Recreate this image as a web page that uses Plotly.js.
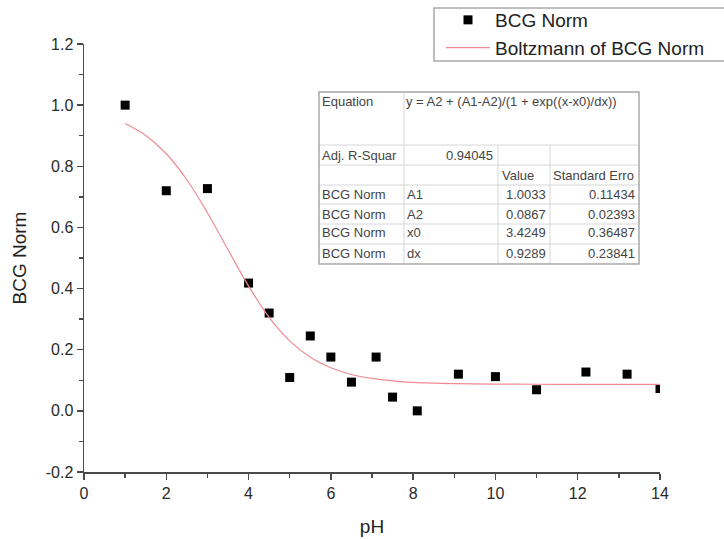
<!DOCTYPE html>
<html>
<head>
<meta charset="utf-8">
<script src="https://cdn.plot.ly/plotly-3.0.1.min.js"></script>
<style>html,body{margin:0;padding:0;background:#fff;}#chart{width:724px;height:539px;}</style>
</head>
<body>
<div id="chart"></div>
<script>
// Measured data points (pH vs BCG Norm)
const phValues = [1, 2, 3, 4, 4.5, 5, 5.5, 6, 6.5, 7.1, 7.5, 8.1, 9.1, 10, 11, 12.2, 13.2, 14];
const bcgNorm = [1.0, 0.72, 0.727, 0.418, 0.32, 0.109, 0.245, 0.176, 0.094, 0.176, 0.045, 0.0, 0.12, 0.112, 0.069, 0.127, 0.12, 0.073];

// Fitted Boltzmann curve
const fitX = [1, 1.5, 2, 2.5, 3, 3.5, 4, 4.5, 5, 5.5, 6, 6.5, 7, 7.5, 8, 9, 10, 11, 12, 13, 14];
const fitY = [0.940, 0.901, 0.841, 0.756, 0.648, 0.527, 0.408, 0.306, 0.229, 0.175, 0.141, 0.119, 0.106, 0.098, 0.093, 0.089, 0.0875, 0.087, 0.0868, 0.0867, 0.0867];

// Tick labels
const xTickVals = [0, 2, 4, 6, 8, 10, 12, 14];
const xTickText = ["0", "2", "4", "6", "8", "10", "12", "14"];
const yTickVals = [-0.2, 0, 0.2, 0.4, 0.6, 0.8, 1.0, 1.2];
const yTickText = ["-0.2", "0.0", "0.2", "0.4", "0.6", "0.8", "1.0", "1.2"];

// Legend names and axis titles
const seriesNames = ["BCG Norm", "Boltzmann of BCG Norm"];
const xTitle = "pH";
const yTitle = "BCG Norm";

// Fit result table
const tableEquation = "y = A2 + (A1-A2)/(1 + exp((x-x0)/dx))";
const adjR2 = "0.94045";
const paramRows = [
  ["BCG Norm", "A1", "1.0033", "0.11434"],
  ["BCG Norm", "A2", "0.0867", "0.02393"],
  ["BCG Norm", "x0", "3.4249", "0.36487"],
  ["BCG Norm", "dx", "0.9289", "0.23841"]
];

// pixel -> paper helpers (plot area: x 84..660, y 44..472)
const L = 84, R = 660, T = 44, B = 472;
const px = v => (v - L) / (R - L);
const py = v => (B - v) / (B - T);

const FONT = "Arial, 'Liberation Sans', sans-serif";
const shapes = [];
const annotations = [];

// Table geometry
const tL = 319, tR = 639, tT = 92, tB = 264;
const colX = [319, 404, 498, 550, 639];
const rowY = [92, 145, 165, 185, 204, 224, 244, 264];
const inner = {color: "#d6d6d6", width: 1};
function hline(x0, x1, y, line) { shapes.push({type: "line", xref: "paper", yref: "paper", x0: px(x0), x1: px(x1), y0: py(y), y1: py(y), line}); }
function vline(x, y0, y1, line) { shapes.push({type: "line", xref: "paper", yref: "paper", x0: px(x), x1: px(x), y0: py(y0), y1: py(y1), line}); }
for (let i = 1; i < rowY.length - 1; i++) hline(tL, tR, rowY[i], inner);
vline(colX[1], tT, tB, inner);
vline(colX[2], rowY[1], tB, inner);
vline(colX[3], rowY[1], tB, inner);
shapes.push({type: "rect", xref: "paper", yref: "paper", x0: px(tL), x1: px(tR), y0: py(tB), y1: py(tT), line: {color: "#a8a8a8", width: 1.5}});

function txt(text, x, y, anchor) {
  annotations.push({xref: "paper", yref: "paper", x: px(x), y: py(y), text, showarrow: false,
    xanchor: anchor, yanchor: "middle", font: {family: FONT, size: 13, color: "#444"}, borderpad: 0});
}
txt("Equation", 321, 102, "left");
txt(tableEquation, 405, 102, "left");
txt("Adj. R-Squar", 321, 155, "left");
txt(adjR2, 494, 155, "right");
txt("Value", 501, 175, "left");
txt("Standard Erro", 552, 175, "left");
const rowCenters = [194, 214, 233, 253];
paramRows.forEach((r, i) => {
  txt(r[0], 321, rowCenters[i], "left");
  txt(r[1], 406, rowCenters[i], "left");
  txt(r[2], 547, rowCenters[i], "right");
  txt(r[3], 636, rowCenters[i], "right");
});

// Legend frame (box runs past the right edge of the picture)
shapes.push({type: "rect", xref: "paper", yref: "paper", x0: px(434), x1: px(745), y0: py(61), y1: py(8),
  line: {color: "#a8a8a8", width: 1.5}});

const traces = [
  {x: phValues, y: bcgNorm, name: seriesNames[0], type: "scatter", mode: "markers",
   marker: {symbol: "square", size: 9, color: "#000"}, cliponaxis: true},
  {x: fitX, y: fitY, name: seriesNames[1], type: "scatter", mode: "lines",
   line: {color: "#f08a96", width: 1.2, shape: "spline"}}
];

const axisCommon = {
  showline: true, linecolor: "#4a4a4a", linewidth: 1.5, mirror: false,
  showgrid: false, zeroline: false, ticks: "outside", ticklen: 6, tickwidth: 1.5, tickcolor: "#4a4a4a",
  tickfont: {family: FONT, size: 16, color: "#2a2a2a"}
};

const layout = {
  width: 724, height: 539,
  margin: {l: L, r: 724 - R, t: T, b: 539 - B, autoexpand: false},
  paper_bgcolor: "#fff", plot_bgcolor: "#fff",
  showlegend: true,
  legend: {x: px(441), y: py(1), xanchor: "left", yanchor: "top", borderwidth: 0, bgcolor: "rgba(255,255,255,0)",
    font: {family: FONT, size: 19, color: "#222"}, itemwidth: 44, tracegroupgap: 0},
  xaxis: Object.assign({}, axisCommon, {range: [0, 14], tickmode: "array", tickvals: xTickVals, ticktext: xTickText,
    minor: {dtick: 1, tick0: 0, ticks: "outside", ticklen: 4, tickwidth: 1.5, tickcolor: "#4a4a4a"},
    title: {text: xTitle, font: {family: FONT, size: 19, color: "#222"}, standoff: 19}}),
  yaxis: Object.assign({}, axisCommon, {range: [-0.2, 1.2], tickmode: "array", tickvals: yTickVals, ticktext: yTickText,
    minor: {dtick: 0.1, tick0: 0, ticks: "outside", ticklen: 4, tickwidth: 1.5, tickcolor: "#4a4a4a"},
    title: {text: yTitle, font: {family: FONT, size: 19, color: "#222"}, standoff: 14}}),
  shapes, annotations
};

Plotly.newPlot("chart", traces, layout, {staticPlot: true, displayModeBar: false});
</script>
</body>
</html>
